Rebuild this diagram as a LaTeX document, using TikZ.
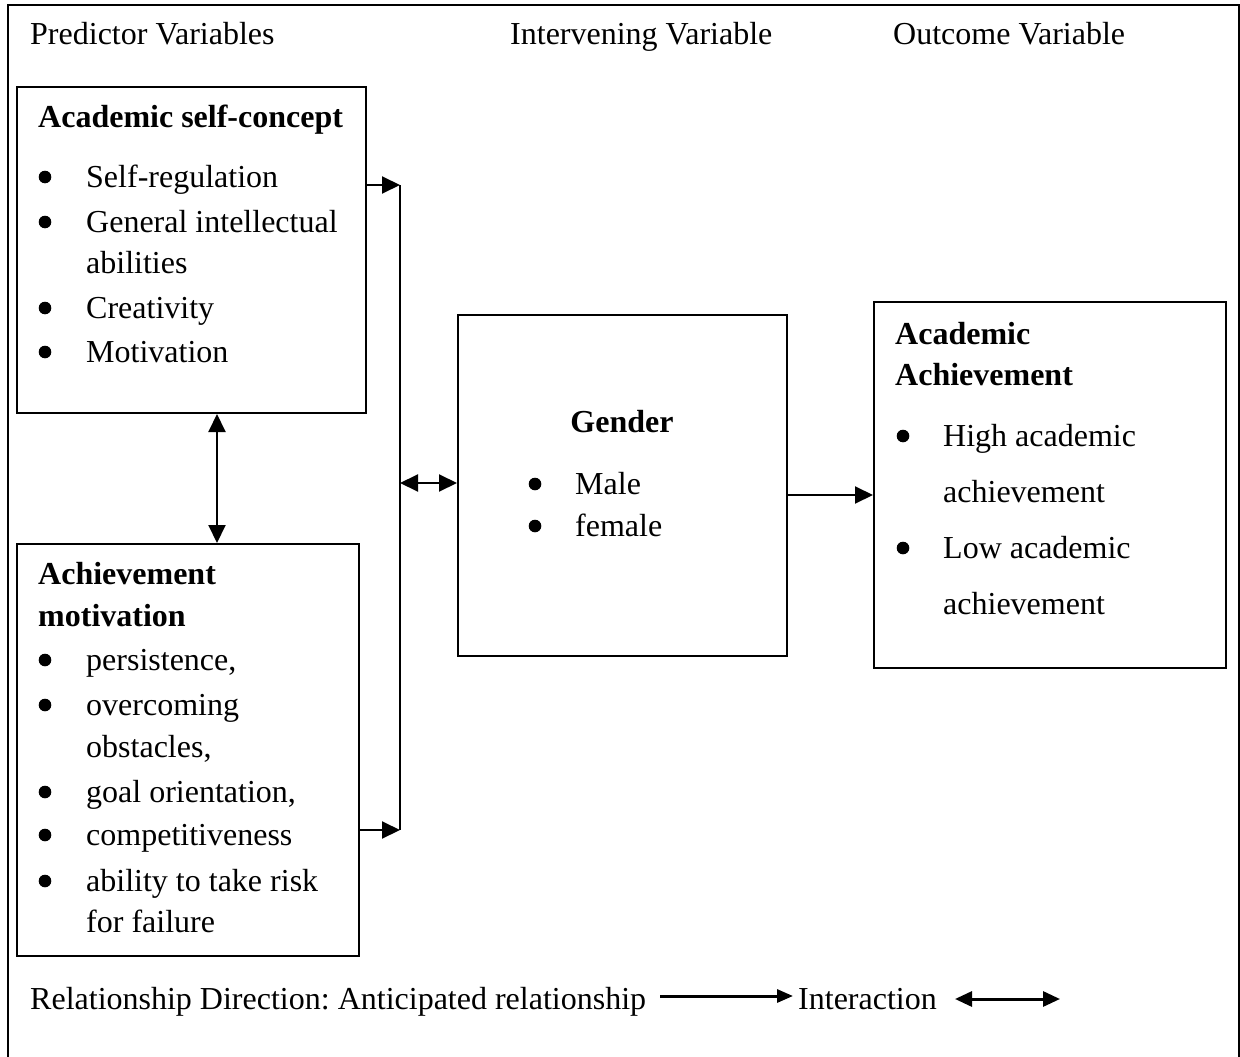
\documentclass[tikz,border=0pt]{standalone}
\usepackage{fontspec}
\setmainfont{Liberation Serif}
\usetikzlibrary{arrows.meta}
\newcommand\mybul[2]{\fill (#1,#2-10) circle (6.3pt);}
\begin{document}
\frenchspacing
\begin{tikzpicture}[x=1pt,y=-1pt,
  box/.style={draw, line width=2pt, inner sep=0pt},
  txt/.style={anchor=base west, inner sep=0pt, font=\fontsize{32}{38}\selectfont},
  btxt/.style={txt, font=\fontsize{32}{38}\selectfont\bfseries},
  arr/.style={line width=2pt, -{Triangle[length=18pt,width=17pt]}},
  dbl/.style={line width=2pt, {Triangle[length=18pt,width=17pt]}-{Triangle[length=18pt,width=17pt]}},
  legarr/.style={line width=3pt, -{Triangle[length=16pt,width=13pt]}},
  legdbl/.style={line width=3pt, {Triangle[length=17pt,width=15pt]}-{Triangle[length=17pt,width=15pt]}}
]
\useasboundingbox (0,0) rectangle (1240,1057);
% outer frame
\draw[line width=2pt] (8,1057) -- (8,5) -- (1239,5) -- (1239,1057);

% headers
\node[txt] (h1) at (30,45) {Predictor Variables};
\node[txt] (h2) at (510,45) {Intervening Variable};
\node[txt] (h3) at (893,45) {Outcome Variable};

% boxes
\node[box, minimum width=349pt, minimum height=326pt] (b1) at (191.5,250) {};
\node[box, minimum width=342pt, minimum height=412pt] (b2) at (188,750) {};
\node[box, minimum width=329pt, minimum height=341pt] (gen) at (622.5,485.5) {};
\node[box, minimum width=352pt, minimum height=366pt] (aa) at (1050,485) {};

% box 1 text
\node[btxt] (t1) at (38,128) {Academic self-concept};
\mybul{45}{187}
\node[txt] (t11) at (86,187) {Self-regulation};
\mybul{45}{232}
\node[txt] (t12) at (86,232) {General intellectual};
\node[txt] (t12b) at (86,273) {abilities};
\mybul{45}{318}
\node[txt] (t13) at (86,318) {Creativity};
\mybul{45}{362}
\node[txt] (t14) at (86,362) {Motivation};

% box 2 text
\node[btxt] (t2) at (38,584) {Achievement};
\node[btxt] (t2b) at (38,626) {motivation};
\mybul{45}{670}
\node[txt] (t21) at (86,670) {persistence,};
\mybul{45}{715}
\node[txt] (t22) at (86,715) {overcoming};
\node[txt] (t22b) at (86,757) {obstacles,};
\mybul{45}{802}
\node[txt] (t23) at (86,802) {goal orientation,};
\mybul{45}{845}
\node[txt] (t24) at (86,845) {competitiveness};
\mybul{45}{891}
\node[txt] (t25) at (86,891) {ability to take risk};
\node[txt] (t25b) at (86,932) {for failure};

% gender text
\node[btxt, anchor=base] (tg) at (622,432) {Gender};
\mybul{535}{494}
\node[txt] (tg1) at (575,494) {Male};
\mybul{535}{536}
\node[txt] (tg2) at (575,536) {female};

% academic achievement text
\node[btxt] (ta) at (895,344) {Academic};
\node[btxt] (tab) at (895,385) {Achievement};
\mybul{903}{446}
\node[txt] (ta1) at (943,446) {High academic};
\node[txt] (ta1b) at (943,502) {achievement};
\mybul{903}{558}
\node[txt] (ta2) at (943,558) {Low academic};
\node[txt] (ta2b) at (943,614) {achievement};

% connectors
\coordinate (bt) at (400,185);
\coordinate (bb) at (400,830);
\coordinate (bm) at (400,483);
\coordinate (ga) at (787,495);
\coordinate (vx) at (217,0);
\draw[line width=2pt] (bt) -- (bb);
\draw[arr] (b1.east |- bt) -- (bt);
\draw[arr] (b2.east |- bb) -- (bb);
\draw[dbl] (bm) -- (gen.west |- bm);
\draw[arr] (gen.east |- ga) -- (aa.west |- ga);
\draw[dbl] (b1.south -| vx) -- (b2.north -| vx);

% legend
\node[txt] (l1) at (30,1009) {Relationship Direction: Anticipated relationship};
\node[txt] (l2) at (798,1009) {Interaction};
\coordinate (la) at (660,996);
\coordinate (lb) at (793,996);
\coordinate (lc) at (955,999);
\coordinate (ld) at (1060,999);
\draw[legarr] (la) -- (lb);
\draw[legdbl] (lc) -- (ld);
\end{tikzpicture}
\end{document}
